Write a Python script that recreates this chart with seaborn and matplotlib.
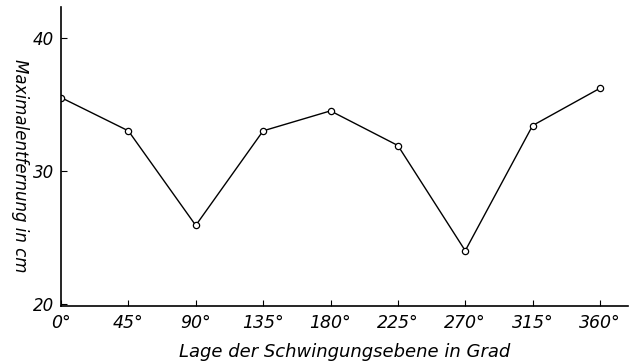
import matplotlib
matplotlib.use("Agg")
import matplotlib.pyplot as plt
import seaborn as sns
import pandas as pd

angles = [0, 45, 90, 135, 180, 225, 270, 315, 360]
distance = [35.5, 33.0, 25.9, 33.0, 34.5, 31.9, 24.0, 33.4, 36.2]
xtick_labels = ["0°", "45°", "90°", "135°", "180°", "225°", "270°", "315°", "360°"]
yticks = [20, 30, 40]

sns.set_theme(style="white")
plt.rcParams['font.family'] = ['DejaVu Sans']

df = pd.DataFrame({"angle": angles, "dist": distance})

fig = plt.figure(figsize=(6.4, 3.64), dpi=100)
ax = fig.add_axes([61/640, 1-306/364, (628-61)/640, (306-7)/364])
sns.lineplot(data=df, x="angle", y="dist", ax=ax, color="black", linewidth=1.0,
             marker="o", markersize=4.5, markerfacecolor="white",
             markeredgecolor="black", markeredgewidth=0.9)

ax.set_xlim(0, 378.7)
ax.set_ylim(19.85, 42.3)
ax.set_xticks(angles)
ax.set_xticklabels(xtick_labels, fontstyle="italic", fontsize=12.5)
ax.set_yticks(yticks)
ax.set_yticklabels([str(v) for v in yticks], fontstyle="italic", fontsize=12)
ax.tick_params(axis="both", direction="in", length=4, width=0.8, colors="black",
               labelcolor="black", bottom=True, left=True)
ax.tick_params(axis="x", pad=6)
ax.tick_params(axis="y", pad=5)
for s in ["top", "right"]:
    ax.spines[s].set_visible(False)
for s in ["left", "bottom"]:
    ax.spines[s].set_color("black")
    ax.spines[s].set_linewidth(1.2)

ax.set_xlabel("Lage der Schwingungsebene in Grad", fontstyle="italic", fontsize=13,
              labelpad=8, color="black")
ax.set_ylabel("Maximalentfernung in cm", fontstyle="italic", fontsize=12, rotation=270,
              va="center", ha="center", color="black")
ax.yaxis.set_label_coords(-0.072, 0.47)

fig.savefig("out.png", dpi=100)
